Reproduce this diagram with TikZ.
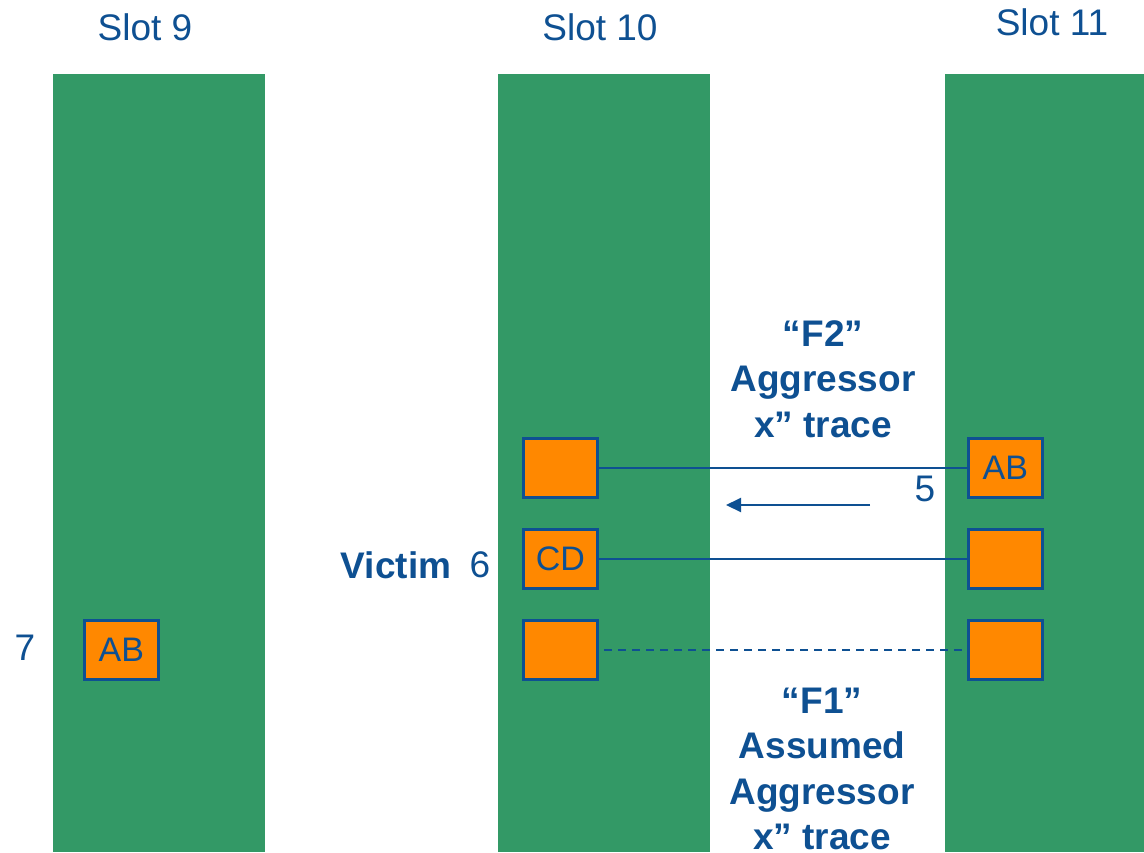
\documentclass[tikz,border=0pt]{standalone}
\usepackage{fontspec}
\setmainfont{Liberation Sans}
\usetikzlibrary{arrows.meta}
\definecolor{slotgreen}{RGB}{51,153,102}
\definecolor{padorange}{RGB}{255,136,0}
\definecolor{navy}{RGB}{14,80,146}
\tikzset{
  slotbar/.style={fill=slotgreen, draw=none},
  pad/.style={draw=navy, line width=3.6pt, fill=padorange, minimum width=74pt, minimum height=59pt,
              inner sep=0pt, text=navy, font=\fontsize{34}{40}\selectfont, anchor=north west},
  lbl/.style={text=navy, font=\fontsize{37}{44}\selectfont, inner sep=0pt},
  blbl/.style={text=navy, font=\bfseries\fontsize{37}{45.5}\selectfont, inner sep=0pt, align=center},
  trace/.style={draw=navy, line width=2pt},
}
\begin{document}
\begin{tikzpicture}[x=1pt,y=-1pt]
\useasboundingbox (0,0) rectangle (1144,852);
\fill[white] (0,0) rectangle (1144,852);
% slot bars
\fill[slotbar] (53,74) rectangle (265,852);
\fill[slotbar] (498,74) rectangle (710,852);
\fill[slotbar] (945,74) rectangle (1144,852);
% slot titles
\node[lbl] (s9) at (145,27) {Slot 9};
\node[lbl] (s10) at (600,27) {Slot 10};
\node[lbl] (s11) at (1052,22) {Slot 11};
% pads
\node[pad] (a1) at (521.5,436.5) {};
\node[pad] (a2) at (521.5,527.5) {CD};
\node[pad] (a3) at (521.5,618.5) {};
\node[pad] (b1) at (966.5,436.5) {AB};
\node[pad] (b2) at (966.5,527.5) {};
\node[pad] (b3) at (966.5,618.5) {};
\node[pad] (c1) at (82.5,618.5) {AB};
% traces
\draw[trace] (a1.east) -- (b1.west);
\draw[trace] (a2.east) -- (b2.west);
\draw[trace, dash pattern=on 8pt off 6pt] ([xshift=5pt]a3.east) -- ([xshift=-5pt]b3.west);
% direction arrow
\coordinate (arrS) at (870,505);
\coordinate (arrE) at (726,505);
\draw[trace, -{Triangle[length=15pt,width=14pt]}] (arrS) -- (arrE);
% labels
\node[lbl] (n5) at (925,489) {5};
\node[blbl] (victim) at (396,565) {Victim};
\node[lbl] (n6) at (480,565) {6};
\node[lbl] (n7) at (25,648) {7};
\node[blbl] (f2) at (823,379) {“F2”\\Aggressor\\x” trace};
\node[blbl] (f1) at (822,769) {“F1”\\Assumed\\Aggressor\\x” trace};
\end{tikzpicture}
\end{document}
